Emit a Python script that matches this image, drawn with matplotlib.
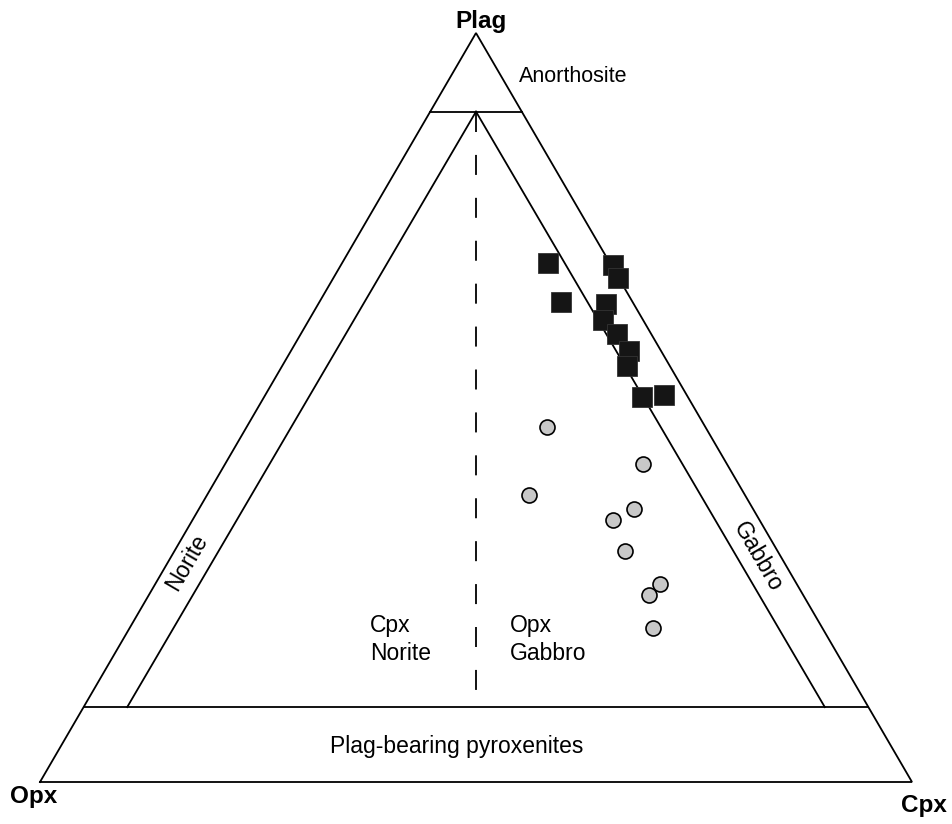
import matplotlib
matplotlib.use("Agg")
import matplotlib.pyplot as plt
import numpy as np

plt.rcParams['font.family'] = ['Liberation Sans', 'DejaVu Sans']
plt.rcParams['lines.scale_dashes'] = False

# ---- data (percent: Plag, Cpx, Opx) ----
sq_plag = [69.3, 69.0, 67.3, 64.1, 63.8, 61.7, 59.8, 57.5, 55.5, 51.4, 51.7]
sq_cpx  = [23.6, 31.2, 32.6, 27.7, 33.0, 33.7, 36.3, 38.8, 39.6, 43.3, 45.7]
sq_opx  = [100 - p - c for p, c in zip(sq_plag, sq_cpx)]

ci_plag = [47.4, 42.5, 38.3, 36.4, 35.0, 30.8, 26.4, 25.0, 20.6]
ci_cpx  = [34.4, 47.9, 36.9, 49.9, 48.2, 51.7, 57.9, 57.3, 60.0]
ci_opx  = [100 - p - c for p, c in zip(ci_plag, ci_cpx)]

# field boundaries (percent)
plag_low = 10
plag_high = 89.5
side_min = 5

# ---- ternary -> cartesian ----
def tern(plag, cpx):
    p = np.asarray(plag, float) / 100.0
    c = np.asarray(cpx, float) / 100.0
    return c + p / 2.0, p

W, H = 952, 824
fig = plt.figure(figsize=(W / 100, H / 100), dpi=100)
ax = fig.add_axes([0, 0, 1, 1])
ax.set_xlim(-40 / 872, 912 / 872)
ax.set_ylim(-42 / 749, 782 / 749)
ax.axis('off')

lw = 1.3
# outer triangle
ox, oy = tern([0, 0, 100, 0], [0, 100, 0, 0])
ax.plot(ox, oy, color='black', lw=lw, solid_joinstyle='miter')

# Plag upper line (anorthosite)
x, y = tern([plag_high, plag_high], [0, 100 - plag_high])
ax.plot(x, y, color='black', lw=lw)
# Plag 10 line
x, y = tern([plag_low, plag_low], [0, 100 - plag_low])
ax.plot(x, y, color='black', lw=lw)
# Norite line (Cpx = 5)
x, y = tern([plag_low, plag_high], [side_min, (100 - plag_high) / 2])
ax.plot(x, y, color='black', lw=lw)
# Gabbro line (Opx = 5)
x, y = tern([plag_low, plag_high], [100 - plag_low - side_min, (100 - plag_high) / 2])
ax.plot(x, y, color='black', lw=lw)
# dashed Opx = Cpx line
x, y = tern([plag_high, plag_low], [(100 - plag_high) / 2, (100 - plag_low) / 2])
ax.plot(x, y, color='black', lw=1.3, linestyle=(0, (14.4, 16.5)))

# data points
sx, sy = tern(sq_plag, sq_cpx)
ax.plot(sx, sy, 's', ms=14.6, mfc='#151515', mec='#333333', mew=0.6,
        clip_on=False, zorder=5)
cx, cy = tern(ci_plag, ci_cpx)
ax.plot(cx, cy, 'o', ms=10.8, mfc='#c8c8c8', mec='black', mew=1.2,
        clip_on=False, zorder=5)

# ---- labels (positions in pixel space converted) ----
def px(xp, yp):
    return (xp - 40) / 872, (782 - yp) / 749

fs = 16.5
fb = 17.5
ax.text(*px(481, 28), 'Plag', fontsize=fb, fontweight='bold', ha='center', va='baseline')
ax.text(*px(10, 803), 'Opx', fontsize=fb, fontweight='bold', ha='left', va='baseline')
ax.text(*px(947, 812), 'Cpx', fontsize=fb, fontweight='bold', ha='right', va='baseline')
ax.text(*px(519, 82), 'Anorthosite', fontsize=fs - 1, ha='left', va='baseline')
ax.text(*px(457, 753), 'Plag-bearing pyroxenites', fontsize=fs, ha='center', va='baseline')
ax.text(*px(370, 632), 'Cpx', fontsize=fs, ha='left', va='baseline')
ax.text(*px(370, 660), 'Norite', fontsize=fs, ha='left', va='baseline')
ax.text(*px(510, 632), 'Opx', fontsize=fs, ha='left', va='baseline')
ax.text(*px(510, 660), 'Gabbro', fontsize=fs, ha='left', va='baseline')
ang = np.degrees(np.arctan2(749, 436))
ax.text(*px(187, 562), 'Norite', fontsize=fs, rotation=ang,
        ha='center', va='center', rotation_mode='anchor')
ax.text(*px(758, 557), 'Gabbro', fontsize=fs, rotation=-ang,
        ha='center', va='center', rotation_mode='anchor')

fig.savefig('out.png', dpi=100)
